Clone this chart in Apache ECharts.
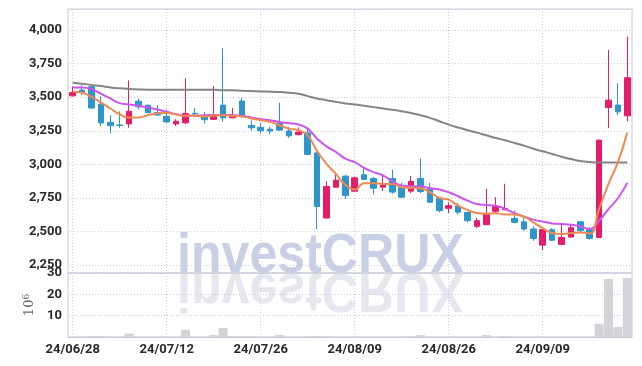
<!DOCTYPE html>
<html>
<head>
<meta charset="utf-8">
<script src="https://cdn.jsdelivr.net/npm/echarts@6/dist/echarts.min.js"></script>
<style>
html,body{margin:0;padding:0;background:#fff;}
#chart{width:642px;height:366px;}
</style>
</head>
<body>
<div id="chart"></div>
<script>
const dates = ['24/06/28',
'24/07/01','24/07/02','24/07/03','24/07/04','24/07/05','24/07/08','24/07/09','24/07/10','24/07/11','24/07/12',
'24/07/15','24/07/16','24/07/17','24/07/18','24/07/19','24/07/22','24/07/23','24/07/24','24/07/25','24/07/26',
'24/07/29','24/07/30','24/07/31','24/08/01','24/08/02','24/08/05','24/08/06','24/08/07','24/08/08','24/08/09',
'24/08/12','24/08/13','24/08/14','24/08/16','24/08/19','24/08/20','24/08/21','24/08/22','24/08/23','24/08/26',
'24/08/27','24/08/28','24/08/29','24/08/30','24/09/02','24/09/03','24/09/04','24/09/05','24/09/06','24/09/09',
'24/09/10','24/09/11','24/09/12','24/09/13','24/09/19','24/09/20','24/09/23','24/09/24','24/09/25'];

const openP  = [3510,3553,3578,3448,3313,3293,3301,3470,3440,3386,3358,3301,3309,3380,3358,3335,3441,3346,3471,3290,
                3276,3262,3308,3249,3221,3234,3084,2600,2830,2912,2800,2922,2894,2830,2894,2830,2800,2894,2822,2747,
                2672,2687,2642,2538,2550,2650,2662,2597,2572,2518,2398,2513,2403,2458,2572,2513,2455,3423,3441,3361];
const closeP = [3535,3537,3420,3308,3288,3289,3396,3428,3386,3367,3316,3321,3378,3376,3332,3368,3346,3360,3354,3272,
                3250,3248,3255,3212,3240,3074,2685,2835,2882,2767,2900,2888,2822,2847,2793,2755,2872,2798,2718,2655,
                2692,2643,2580,2580,2635,2687,2672,2568,2518,2448,2513,2435,2455,2528,2505,2448,3180,3478,3391,3645];
const lowP   = [3505,3515,3410,3283,3230,3272,3272,3408,3380,3360,3310,3286,3300,3353,3305,3330,3316,3344,3349,3250,
                3230,3225,3248,3197,3215,3070,2518,2598,2828,2742,2797,2885,2775,2800,2780,2750,2785,2785,2712,2643,
                2637,2625,2568,2525,2548,2637,2657,2560,2505,2430,2360,2428,2400,2452,2493,2438,2450,3270,3366,3321];
const highP  = [3580,3590,3580,3505,3365,3395,3625,3490,3445,3440,3408,3336,3640,3420,3390,3583,3865,3420,3495,3328,
                3310,3280,3460,3280,3275,3260,3095,2875,2927,2922,2910,2977,2905,2922,2960,2862,2912,3042,2862,2748,
                2717,2712,2645,2600,2817,2755,2855,2655,2617,2538,2530,2525,2555,2555,2575,2530,3186,3852,3603,3952];

const maShort = [3541,3533,3503,3461,3416,3373,3349,3349,3366,3378,3383,3371,3361,3361,3356,3363,3366,3361,3358,3341,
                 3329,3316,3291,3266,3254,3216,3097,3004,2929,2847,2812,2859,2859,2854,2854,2830,2825,2822,2792,2750,
                 2737,2692,2660,2637,2632,2635,2627,2627,2610,2568,2525,2488,2480,2488,2493,2485,2667,2854,3017,3236];
const maMid   = [3573,3573,3561,3526,3491,3456,3446,3436,3423,3408,3391,3373,3361,3363,3366,3368,3368,3366,3361,3349,
                 3336,3329,3316,3306,3296,3266,3191,3134,3092,3042,3017,2974,2942,2917,2874,2842,2837,2835,2822,2812,
                 2792,2762,2730,2705,2697,2692,2667,2637,2610,2588,2573,2560,2555,2550,2538,2518,2580,2667,2747,2862];
const maLong  = [3608,3600,3591,3583,3573,3566,3561,3558,3556,3556,3556,3556,3556,3556,3556,3556,3551,3551,3548,3546,
                 3543,3541,3538,3533,3526,3508,3491,3478,3466,3453,3446,3436,3426,3416,3406,3396,3383,3366,3346,3321,
                 3296,3274,3254,3236,3216,3196,3179,3159,3139,3116,3097,3077,3057,3039,3024,3017,3014,3014,3014,3014];

const volume = [0.1,0.1,0.5,0.5,0.1,0.1,1.6,0.1,0.1,0.1,0.1,0.1,3.4,0.1,0.1,0.9,4.2,0.4,0.4,0.4,
                0.1,0.1,0.9,0.1,0.1,0.4,0.5,0.4,0.1,0.1,0.1,0.1,0.1,0.1,0.1,0.1,0.4,0.9,0.1,0.1,
                0.1,0.1,0.1,0.1,0.9,0.1,0.5,0.1,0.1,0.1,0.1,0.1,0.1,0.1,0.1,0.1,6.2,27.2,4.7,27.7];

const priceTicks = [2250, 2500, 2750, 3000, 3250, 3500, 3750, 4000];
const volumeTicks = [0, 10, 20, 30];

const candleData = openP.map((o, i) => [o, closeP[i], lowP[i], highP[i]]);

const labelFont = {fontFamily: 'Roboto, DejaVu Sans Condensed, sans-serif', fontWeight: 'bold', fontSize: 13, color: '#2a2a2a'};
const gridLineStyle = {color: '#c9cde0', type: [1, 2], width: 1};
const frameColor = '#c6c9d8';
const wmFont = 'bold 56px "Liberation Sans", Arial, sans-serif';

const chart = echarts.init(document.getElementById('chart'), null, {renderer: 'canvas'});
chart.setOption({
  animation: false,
  backgroundColor: '#fff',
  graphic: [
    {type: 'text', x: 177, y: 229, scaleX: 0.895, z: -10, silent: true,
     style: {text: 'investCRUX', font: wmFont, fill: '#c9d0e5',
             textAlign: 'left', textVerticalAlign: 'top', align: 'left', verticalAlign: 'top'}},
    {type: 'text', x: 177, y: 317, scaleX: 0.895, scaleY: -1, z: -10, silent: true,
     style: {text: 'investCRUX', font: wmFont, fill: '#e6e7ef',
             textAlign: 'left', textVerticalAlign: 'top', align: 'left', verticalAlign: 'top'}}
  ],
  grid: [
    {left: 68, right: 10, top: 9, height: 264, show: true, borderColor: frameColor, borderWidth: 1, backgroundColor: 'transparent'},
    {left: 68, right: 10, top: 9, height: 256, show: false},
    {left: 68, right: 10, top: 273, height: 64, show: true, borderColor: frameColor, borderWidth: 1, backgroundColor: 'transparent'}
  ],
  xAxis: [
    {type: 'category', gridIndex: 0, data: dates, boundaryGap: true,
     axisLine: {show: false}, axisTick: {show: false}, axisLabel: {show: false},
     splitLine: {show: true, interval: 9, alignWithLabel: true, lineStyle: gridLineStyle}},
    {type: 'category', gridIndex: 1, data: dates, show: false},
    {type: 'category', gridIndex: 2, data: dates, boundaryGap: true,
     axisLine: {show: true, lineStyle: {color: frameColor}}, axisTick: {show: false},
     axisLabel: Object.assign({interval: 9, margin: 6}, labelFont),
     splitLine: {show: true, interval: 9, alignWithLabel: true, lineStyle: gridLineStyle}}
  ],
  yAxis: [
    {type: 'value', gridIndex: 0, min: 2190.4, max: 4157, show: false, splitLine: {show: false}},
    {type: 'value', gridIndex: 1, min: 2250, max: 4157, interval: 250,
     axisLine: {show: false}, axisTick: {show: false},
     axisLabel: Object.assign({margin: 6, formatter: v => priceTicks.includes(v) ? v.toLocaleString('en-US') : ''}, labelFont),
     splitLine: {show: true, lineStyle: gridLineStyle}},
    {type: 'value', gridIndex: 2, min: 0, max: 30, interval: 10,
     axisLine: {show: false}, axisTick: {show: false},
     axisLabel: Object.assign({margin: 6, formatter: v => (v > 0 && volumeTicks.includes(v)) ? String(v) : ''}, labelFont),
     splitLine: {show: true, lineStyle: gridLineStyle},
     name: '{a|10}{b|6}', nameLocation: 'middle', nameRotate: 90, nameGap: 21,
     nameTextStyle: {rich: {
       a: {fontFamily: 'DejaVu Serif', fontSize: 13, color: '#666'},
       b: {fontFamily: 'DejaVu Serif', fontSize: 9, color: '#666', verticalAlign: 'top', padding: [0, 0, 6, 0]}
     }}}
  ],
  series: [
    {type: 'bar', xAxisIndex: 2, yAxisIndex: 2, data: volume, barCategoryGap: '4%',
     itemStyle: {color: '#d3d3da'}, z: 2},
    {type: 'candlestick', xAxisIndex: 0, yAxisIndex: 0, data: candleData, barWidth: 6,
     itemStyle: {color: '#e41d6a', color0: '#2d95c9', borderColor: '#e41d6a', borderColor0: '#2d95c9', borderWidth: 1}, z: 3},
    {type: 'line', xAxisIndex: 0, yAxisIndex: 0, data: maLong, smooth: true, showSymbol: false,
     lineStyle: {color: '#858585', width: 2}, z: 4},
    {type: 'line', xAxisIndex: 0, yAxisIndex: 0, data: maMid, smooth: true, showSymbol: false,
     lineStyle: {color: '#cc55ee', width: 2}, z: 4},
    {type: 'line', xAxisIndex: 0, yAxisIndex: 0, data: maShort, smooth: true, showSymbol: false,
     lineStyle: {color: '#ee8a52', width: 2}, z: 5}
  ]
});
</script>
</body>
</html>
